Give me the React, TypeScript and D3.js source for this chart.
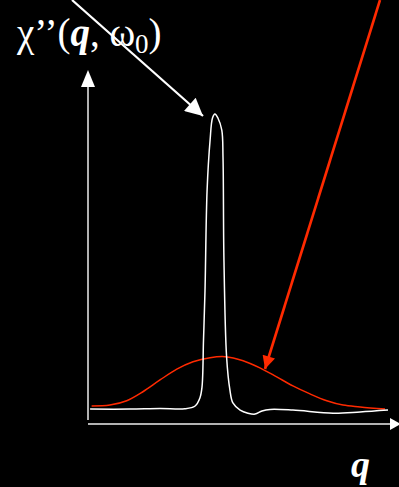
import React, { useEffect } from 'react';
import * as d3 from 'd3';

// sharp response (white), q in 0..100, value normalized to the peak
const sharpQ = [0.7, 14, 24, 32.3, 35.7, 37.3, 38, 38.5, 39, 39.7, 40.7, 41.5, 42.3, 43.3, 44.6, 45, 45.3, 46.2, 47.3, 48.3, 50.7, 53.3, 55.7, 58, 60.7, 68.3, 81.7, 90.7, 100];
const sharpV = [0.048, 0.048, 0.05, 0.049, 0.058, 0.084, 0.119, 0.27, 0.43, 0.755, 0.916, 0.987, 1.0, 0.987, 0.948, 0.861, 0.539, 0.216, 0.11, 0.068, 0.045, 0.035, 0.032, 0.042, 0.047, 0.045, 0.035, 0.039, 0.045];

// broad response (red)
const broadQ = [1.2, 7.3, 12.9, 18.3, 24, 29.6, 35, 40.7, 45.7, 51.7, 57.3, 62.9, 68.3, 74, 79.6, 85, 90.7, 99];
const broadV = [0.058, 0.061, 0.075, 0.104, 0.142, 0.177, 0.201, 0.214, 0.217, 0.204, 0.181, 0.152, 0.123, 0.097, 0.075, 0.061, 0.055, 0.048];

const W = 399;
const H = 487;
const RED = '#ff2a00';

export default function App() {
  useEffect(() => {
    document.body.style.margin = '0';
    document.body.style.background = '#000';
  }, []);

  const x = d3.scaleLinear().domain([0, 100]).range([88, 388]);
  const y = d3.scaleLinear().domain([0, 1]).range([424, 114]);

  const line = d3.line<[number, number]>()
    .x(d => x(d[0]))
    .y(d => y(d[1]))
    .curve(d3.curveCatmullRom.alpha(0.5));

  const sharp = sharpQ.map((q, i) => [q, sharpV[i]] as [number, number]);
  const broad = broadQ.map((q, i) => [q, broadV[i]] as [number, number]);

  return (
    <svg width={W} height={H} style={{ display: 'block', background: '#000' }}>
      <defs>
        <marker id="headW" viewBox="0 0 10 10" refX="10" refY="5" markerWidth="9" markerHeight="8" markerUnits="strokeWidth" orient="auto">
          <path d="M0,0 L10,5 L0,10 z" fill="#fff" />
        </marker>
        <marker id="headR" viewBox="0 0 10 10" refX="10" refY="5" markerWidth="6" markerHeight="5" markerUnits="strokeWidth" orient="auto">
          <path d="M0,0 L10,5 L0,10 z" fill={RED} />
        </marker>
      </defs>

      {/* axes */}
      <line x1={88} y1={420} x2={88} y2={84} stroke="#eee" strokeWidth={1.5} />
      <path d="M88,70 L95,87 L81,87 z" fill="#fff" />
      <line x1={88} y1={424} x2={392} y2={424} stroke="#eee" strokeWidth={1.5} />
      <path d="M401,424 L390,418 L390,430 z" fill="#fff" />

      <path d={line(broad) ?? ''} fill="none" stroke={RED} strokeWidth={1.5} />
      <path d={line(sharp) ?? ''} fill="none" stroke="#fff" strokeWidth={1.5} />

      {/* pointers */}
      <line x1={72} y1={0} x2={203} y2={116} stroke="#fff" strokeWidth={2.2} markerEnd="url(#headW)" />
      <line x1={380} y1={0} x2={265} y2={369} stroke={RED} strokeWidth={2.6} markerEnd="url(#headR)" />

      <text x={17} y={46} fill="#fff" fontFamily="'Liberation Serif', serif" fontSize={39}>
        χ’’(<tspan fontWeight="bold" fontStyle="italic">q</tspan>, ω<tspan fontSize={27} dy={7}>0</tspan><tspan dy={-7}>)</tspan>
      </text>
      <text x={351} y={477} fill="#fff" fontFamily="'Liberation Serif', serif" fontSize={38} fontWeight="bold" fontStyle="italic">q</text>
    </svg>
  );
}
